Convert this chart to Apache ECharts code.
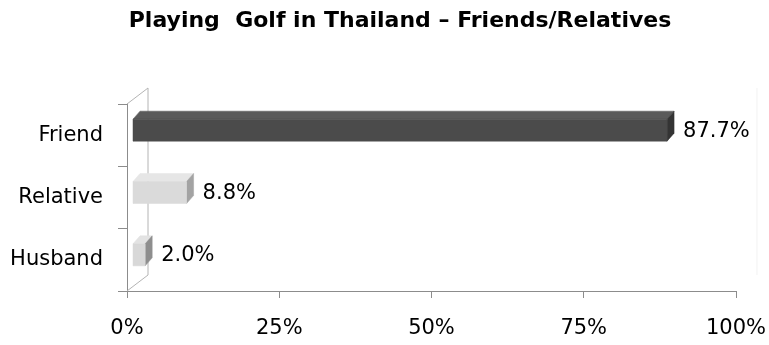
<!DOCTYPE html>
<html>
<head>
<meta charset="utf-8">
<script src="https://cdn.jsdelivr.net/npm/echarts@6/dist/echarts.min.js"></script>
<style>
  html, body { margin: 0; padding: 0; background: #fff; }
  #chart { width: 769px; height: 345px; }
</style>
</head>
<body>
<div id="chart"></div>
<script>
// Who they play golf with in Thailand (share of respondents, %)
const categories = ['Friend', 'Relative', 'Husband'];
const shares = [87.7, 8.8, 2.0];
const tickValues = [0, 25, 50, 75, 100];

// Face colours for each bar: [front, top, side]
const faceColors = [
  ['#4b4b4b', '#5a5a5a', '#343434'],
  ['#dadada', '#e6e6e6', '#a3a3a3'],
  ['#d8d8d8', '#e3e3e3', '#8e8e8e']
];

const FONT = 'DejaVu Sans';
const FONT_SIZE = 21;
const BAR_DX = 7;     // horizontal depth of each bar
const BAR_DY = 8;     // vertical depth of each bar
const BAR_SHIFT = 6;  // bars sit slightly in front of the axis plane
const WALL_DX = 21;   // depth of the back wall
const WALL_DY = 16;

const chart = echarts.init(document.getElementById('chart'));

function renderWall(params, api) {
  const cs = params.coordSys;
  const x0 = cs.x, y0 = cs.y, x1 = cs.x + cs.width, y1 = cs.y + cs.height;
  const line = (a, b, c, d, color) => ({
    type: 'line',
    shape: { x1: a, y1: b, x2: c, y2: d },
    style: { stroke: color, lineWidth: 1 },
    silent: true
  });
  return {
    type: 'group',
    children: [
      line(x0 + WALL_DX, y0 - WALL_DY, x0 + WALL_DX, y1 - WALL_DY, '#b4b4b4'),
      line(x0, y0, x0 + WALL_DX, y0 - WALL_DY, '#b4b4b4'),
      line(x0, y1, x0 + WALL_DX, y1 - WALL_DY, '#b4b4b4'),
      line(x1 + WALL_DX, y0 - WALL_DY, x1 + WALL_DX, y1 - WALL_DY, '#f2f2f2')
    ]
  };
}

function renderBar(params, api) {
  const idx = api.value(1);
  const v = api.value(0);
  const start = api.coord([0, idx]);
  const end = api.coord([v, idx]);
  const cy = start[1];
  const xa = start[0] + BAR_SHIFT;
  const xb = end[0] + BAR_SHIFT;
  const top = cy - 16, bottom = cy + 6;
  const c = faceColors[idx];
  return {
    type: 'group',
    children: [
      {
        type: 'polygon',
        shape: { points: [[xa, top], [xa + BAR_DX, top - BAR_DY], [xb + BAR_DX, top - BAR_DY], [xb, top]] },
        style: { fill: c[1], stroke: c[1], lineWidth: 0.5 }
      },
      {
        type: 'polygon',
        shape: { points: [[xb, top], [xb + BAR_DX, top - BAR_DY], [xb + BAR_DX, bottom - BAR_DY], [xb, bottom]] },
        style: { fill: c[2], stroke: c[2], lineWidth: 0.5 }
      },
      {
        type: 'rect',
        shape: { x: xa, y: top, width: xb - xa, height: bottom - top },
        style: { fill: c[0], stroke: c[0], lineWidth: 0.5 }
      },
      {
        type: 'text',
        style: {
          text: v.toFixed(1) + '%',
          x: xb + BAR_DX + 9,
          y: cy - 4,
          verticalAlign: 'middle',
          align: 'left',
          fill: '#000',
          font: FONT_SIZE + 'px "' + FONT + '"'
        }
      }
    ]
  };
}

chart.setOption({
  animation: false,
  backgroundColor: '#ffffff',
  title: {
    text: 'Playing  Golf in Thailand \u2013 Friends/Relatives',
    left: 395,
    textAlign: 'center',
    top: 5,
    textStyle: { fontFamily: FONT, fontWeight: 'bold', fontSize: 22, color: '#000' }
  },
  grid: { left: 127, right: 33, top: 104, bottom: 54, containLabel: false },
  xAxis: {
    type: 'value',
    min: tickValues[0],
    max: tickValues[tickValues.length - 1],
    interval: tickValues[1] - tickValues[0],
    axisLine: { show: true, lineStyle: { color: '#8c8c8c' } },
    axisTick: { show: true, length: 7, lineStyle: { color: '#8c8c8c' } },
    splitLine: { show: false },
    axisLabel: {
      formatter: '{value}%',
      fontFamily: FONT, fontSize: FONT_SIZE, color: '#000', margin: 27
    }
  },
  yAxis: {
    type: 'category',
    data: categories,
    inverse: true,
    axisLine: { show: true, lineStyle: { color: '#8c8c8c' } },
    axisTick: { show: true, length: 9, lineStyle: { color: '#8c8c8c' } },
    splitLine: { show: false },
    axisLabel: { fontFamily: FONT, fontSize: FONT_SIZE, color: '#000', margin: 24 }
  },
  series: [
    {
      type: 'custom',
      silent: true,
      z: 1,
      renderItem: renderWall,
      data: [[0, 0]]
    },
    {
      type: 'custom',
      z: 2,
      renderItem: renderBar,
      encode: { x: 0, y: 1 },
      data: shares.map((s, i) => [s, i])
    }
  ]
});
</script>
</body>
</html>
